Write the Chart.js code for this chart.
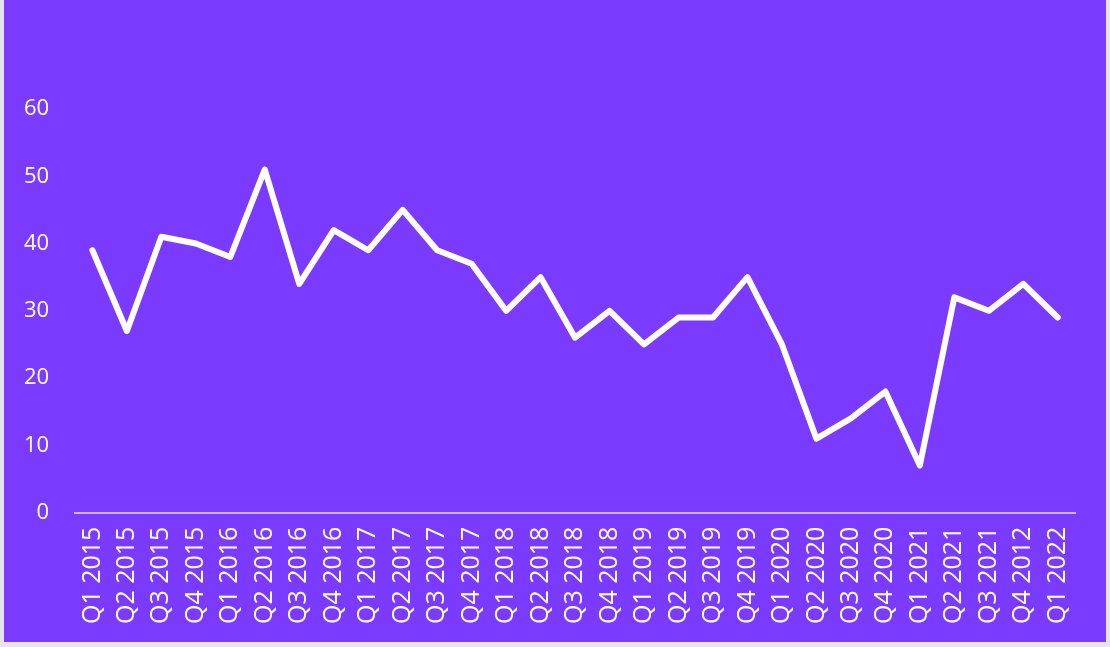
<!DOCTYPE html>
<html>
<head>
<meta charset="utf-8">
<script src="https://cdn.jsdelivr.net/npm/chart.js@4/dist/chart.umd.min.js"></script>
<style>
  html, body { margin: 0; padding: 0; background: #e6e3ee; }
  #wrap { position: absolute; left: 4px; top: 0; width: 1102px; height: 642px; background: #7b3bff; }
</style>
</head>
<body>
<div id="wrap"><canvas id="chart" width="1102" height="642"></canvas></div>
<script>
// quarters along the x axis
const quarters = [
  "Q1 2015", "Q2 2015", "Q3 2015", "Q4 2015",
  "Q1 2016", "Q2 2016", "Q3 2016", "Q4 2016",
  "Q1 2017", "Q2 2017", "Q3 2017", "Q4 2017",
  "Q1 2018", "Q2 2018", "Q3 2018", "Q4 2018",
  "Q1 2019", "Q2 2019", "Q3 2019", "Q4 2019",
  "Q1 2020", "Q2 2020", "Q3 2020", "Q4 2020",
  "Q1 2021", "Q2 2021", "Q3 2021", "Q4 2012",
  "Q1 2022"
];
const values = [
  39, 27, 41, 40,
  38, 51, 34, 42,
  39, 45, 39, 37,
  30, 35, 26, 30,
  25, 29, 29, 35,
  25, 11, 14, 18,
  7, 32, 30, 34,
  29
];
const yTicks = [0, 10, 20, 30, 40, 50, 60];

const family = "'Open Sans', sans-serif";

new Chart(document.getElementById("chart"), {
  type: "line",
  data: {
    labels: quarters,
    datasets: [{
      data: values,
      borderColor: "#ffffff",
      borderWidth: 6,
      borderJoinStyle: "round",
      borderCapStyle: "round",
      pointRadius: 0,
      tension: 0
    }]
  },
  options: {
    responsive: false,
    animation: false,
    layout: { padding: { left: -6, right: 31, top: 109, bottom: 4 } },
    plugins: { legend: { display: false }, tooltip: { enabled: false } },
    scales: {
      x: {
        offset: true,
        grid: { display: false, drawTicks: false },
        border: { display: true, color: "#c9b6f5", width: 2 },
        ticks: {
          color: "#ffffff",
          font: { family: family, size: 25 },
          maxRotation: 90,
          minRotation: 90,
          autoSkip: false,
          padding: 14
        }
      },
      y: {
        min: 0,
        max: 60,
        afterBuildTicks: axis => { axis.ticks = yTicks.map(v => ({ value: v })); },
        grid: { display: false, drawTicks: false },
        border: { display: false },
        ticks: { color: "#ffffff", font: { family: family, size: 22 }, padding: 26 }
      }
    }
  }
});
</script>
</body>
</html>
